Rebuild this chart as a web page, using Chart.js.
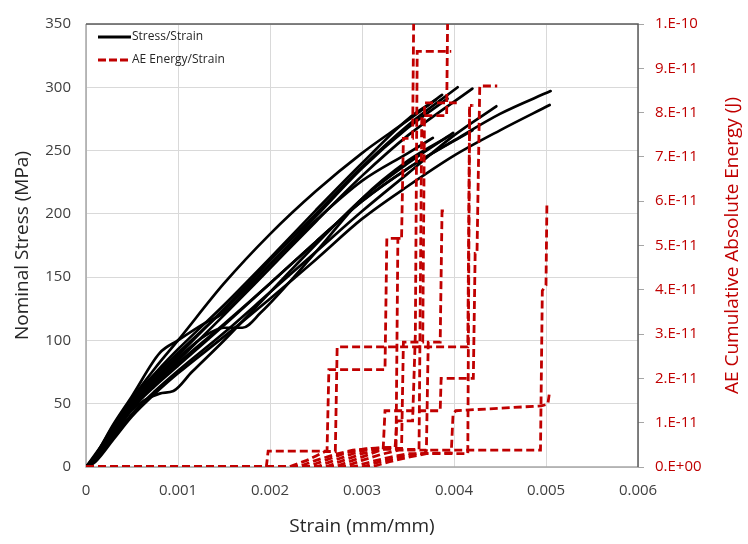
<!DOCTYPE html>
<html><head><meta charset="utf-8">
<script src="https://cdn.jsdelivr.net/npm/chart.js@4.4.1/dist/chart.umd.min.js"></script>
<style>html,body{margin:0;padding:0;background:#fff;}#wrap{width:748px;height:544px;position:relative;}</style>
</head><body><div id="wrap"><canvas id="c" width="748" height="544"></canvas></div>
<script>
// ---- tick labels ----
const xTickLabels = ['0','0.001','0.002','0.003','0.004','0.005','0.006'];
const yTickLabels = ['0','50','100','150','200','250','300','350'];
const y2TickLabels = ['0.E+00','1.E-11','2.E-11','3.E-11','4.E-11','5.E-11','6.E-11','7.E-11','8.E-11','9.E-11','1.E-10'];

// ---- Stress/Strain curves (strain mm/mm, stress MPa) ----
const ssA_strain = [0,0.0001,0.0003,0.0005,0.00075,0.001,0.0015,0.002,0.0025,0.003,0.0035,0.00387];
const ssA_stress = [0,8,32,54,78,100,145,184,218,248,274,294];
const ssB_strain = [0,0.0001,0.0003,0.0005,0.00075,0.001,0.0015,0.002,0.0025,0.003,0.0035,0.00404];
const ssB_stress = [0,10,30,50,70,88,125,163,200,237,270,300];
const ssC_strain = [0,0.0001,0.0003,0.0005,0.00075,0.001,0.0015,0.002,0.0025,0.003,0.0035,0.0042];
const ssC_stress = [0,6,26,46,66,84,120,157,194,230,262,299];
const ssK_strain = [0,0.0001,0.0003,0.0005,0.0008,0.001,0.0013,0.0015,0.002,0.0025,0.003,0.0035,0.00393];
const ssK_stress = [0,9,34,56,90,100,114,122,160,198,236,268,291];
const ssD_strain = [0,0.0001,0.0003,0.0005,0.00075,0.001,0.0015,0.002,0.0025,0.003,0.0035,0.004,0.00446];
const ssD_stress = [0,5,24,42,60,76,106,138,170,202,232,262,285];
const ssE_strain = [0,0.0001,0.0003,0.0005,0.00075,0.001,0.0015,0.002,0.0025,0.003,0.0035,0.004,0.0045,0.00505];
const ssE_stress = [0,7,28,48,66,82,113,145,178,210,236,258,279,297];
const ssF_strain = [0,0.0001,0.0003,0.0005,0.00075,0.001,0.0015,0.002,0.0025,0.003,0.0035,0.004,0.0045,0.00504];
const ssF_stress = [0,4,22,40,58,74,103,133,164,196,222,246,266,286];
const ssG_strain = [0,0.0001,0.0003,0.0005,0.00075,0.001,0.0015,0.002,0.0025,0.003,0.0035,0.0042];
const ssG_stress = [0,6,27,46,64,80,112,145,178,210,236,266];
const ssH_strain = [0,0.0001,0.0003,0.0005,0.00075,0.001,0.0015,0.002,0.0025,0.003,0.0035,0.00377];
const ssH_stress = [0,8,31,52,72,90,124,160,195,226,248,260];
const ssI_strain = [0,0.0001,0.0003,0.0005,0.0008,0.00095,0.00115,0.0015,0.002,0.0025,0.003,0.0035,0.00399];
const ssI_stress = [0,5,25,45,58,60,75,100,138,176,212,240,264];
const ssJ_strain = [0,0.0001,0.0003,0.0005,0.00075,0.001,0.0013,0.0015,0.0017,0.0019,0.0025,0.003,0.0035,0.00396];
const ssJ_stress = [0,7,29,49,68,86,104,110,110,122,170,212,242,262];
const ssL_strain = [0,0.0001,0.0003,0.0005,0.00075,0.001,0.0015,0.002,0.0025,0.003,0.0035,0.0038];
const ssL_stress = [0,9,33,54,74,93,128,165,203,240,275,290];

// ---- AE cumulative absolute energy curves (strain mm/mm, energy J) ----
const ae1_strain = [0,0.00196,0.00198,0.00262,0.00264,0.00325,0.00327,0.00343,0.00345,0.00355,0.00357];
const ae1_energy = [0,0,0.36e-11,0.36e-11,2.2e-11,2.2e-11,5.16e-11,5.16e-11,7.42e-11,7.42e-11,12e-11];
const ae2_strain = [0,0.0022,0.0024,0.0025,0.0026,0.00271,0.00273,0.00415,0.00417,0.00421];
const ae2_energy = [0,0,0.15e-11,0.25e-11,0.35e-11,0.35e-11,2.71e-11,2.71e-11,8.16e-11,8.16e-11];
const ae3_strain = [0,0.0024,0.0026,0.0028,0.003,0.00336,0.00338,0.00355,0.00358,0.0036,0.00397];
const ae3_energy = [0,0,0.15e-11,0.3e-11,0.4e-11,0.45e-11,1.04e-11,1.04e-11,3.0e-11,9.38e-11,9.38e-11];
const ae4_strain = [0,0.0025,0.0027,0.0029,0.0031,0.00343,0.00345,0.00366,0.00368,0.00403];
const ae4_energy = [0,0,0.15e-11,0.3e-11,0.42e-11,0.42e-11,2.82e-11,2.82e-11,8.22e-11,8.22e-11];
const ae5_strain = [0,0.0026,0.0028,0.003,0.0032,0.00362,0.00365,0.00392,0.00394];
const ae5_energy = [0,0,0.15e-11,0.3e-11,0.4e-11,0.4e-11,7.93e-11,7.93e-11,12e-11];
const ae6_strain = [0,0.0027,0.0029,0.0031,0.00323,0.00325,0.00385,0.00386,0.00421,0.00423,0.00425,0.00428,0.00447];
const ae6_energy = [0,0,0.15e-11,0.3e-11,0.4e-11,1.27e-11,1.27e-11,2.0e-11,2.0e-11,4.82e-11,4.82e-11,8.6e-11,8.6e-11];
const ae7_strain = [0,0.0028,0.003,0.0032,0.0034,0.0037,0.00372,0.00385,0.00387,0.00393];
const ae7_energy = [0,0,0.15e-11,0.28e-11,0.38e-11,0.38e-11,2.82e-11,2.82e-11,5.78e-11,5.78e-11];
const ae8_strain = [0,0.0029,0.0031,0.0033,0.0035,0.00368,0.0037,0.00494,0.00496,0.005,0.00501];
const ae8_energy = [0,0,0.12e-11,0.22e-11,0.3e-11,0.3e-11,0.38e-11,0.38e-11,3.98e-11,4.1e-11,5.98e-11];
const ae9_strain = [0,0.003,0.0032,0.0034,0.0036,0.00397,0.00399,0.00402,0.00495,0.00502,0.00504];
const ae9_energy = [0,0,0.12e-11,0.22e-11,0.3e-11,0.32e-11,1.2e-11,1.27e-11,1.38e-11,1.42e-11,1.71e-11];
const ae10_strain = [0,0.0031,0.0033,0.0035,0.0037,0.00415,0.00417,0.0042];
const ae10_energy = [0,0,0.12e-11,0.22e-11,0.3e-11,0.3e-11,8.16e-11,8.16e-11];
const ae11_strain = [0,0.0023,0.0025,0.0027,0.0029,0.0031,0.00337,0.00339,0.00343];
const ae11_energy = [0,0,0.15e-11,0.28e-11,0.38e-11,0.42e-11,0.45e-11,5.16e-11,5.16e-11];

const RED = '#C00000';
function pts(xs, ys){ return xs.map((x,i)=>({x:x, y:ys[i]})); }

const ssSeries = [
  [ssA_strain,ssA_stress],[ssB_strain,ssB_stress],[ssC_strain,ssC_stress],[ssK_strain,ssK_stress],
  [ssD_strain,ssD_stress],[ssE_strain,ssE_stress],[ssF_strain,ssF_stress],[ssG_strain,ssG_stress],
  [ssH_strain,ssH_stress],[ssI_strain,ssI_stress],[ssJ_strain,ssJ_stress],[ssL_strain,ssL_stress]
];
const aeSeries = [
  [ae1_strain,ae1_energy],[ae2_strain,ae2_energy],[ae3_strain,ae3_energy],[ae4_strain,ae4_energy],
  [ae5_strain,ae5_energy],[ae6_strain,ae6_energy],[ae7_strain,ae7_energy],[ae8_strain,ae8_energy],
  [ae9_strain,ae9_energy],[ae10_strain,ae10_energy],[ae11_strain,ae11_energy]
];

const datasets = [];
aeSeries.forEach((s,i)=>datasets.push({
  label:'AE Energy/Strain '+(i+1), data:pts(s[0],s[1]), yAxisID:'y2', showLine:true,
  borderColor:RED, borderWidth:2.8, borderDash:[8,4], pointRadius:0, tension:0, order:0,
  borderCapStyle:'butt', borderJoinStyle:'miter'
}));
ssSeries.forEach((s,i)=>datasets.push({
  label:'Stress/Strain '+(i+1), data:pts(s[0],s[1]), yAxisID:'y', showLine:true,
  borderColor:'#000', borderWidth:2.7, pointRadius:0, cubicInterpolationMode:'monotone', order:1,
  borderCapStyle:'round', borderJoinStyle:'round'
}));

const FONT = "'Open Sans', 'DejaVu Sans', sans-serif";

const framePlugin = {
  id:'frame',
  beforeDatasetsDraw(chart){
    const {ctx, chartArea:a} = chart;
    ctx.save();
    ctx.lineWidth = 1.5;
    ctx.strokeStyle = '#a6a6a6';
    ctx.beginPath(); ctx.moveTo(a.left, a.top); ctx.lineTo(a.left, a.bottom); ctx.lineTo(a.right, a.bottom); ctx.stroke();
    ctx.strokeStyle = '#595959';
    ctx.beginPath(); ctx.moveTo(a.left, a.top); ctx.lineTo(a.right, a.top); ctx.lineTo(a.right, a.bottom); ctx.stroke();
    ctx.restore();
  },
  afterDraw(chart){
    const {ctx, chartArea:a} = chart;
    ctx.save();
    ctx.translate(733, (a.top + a.bottom)/2);
    ctx.rotate(-Math.PI/2);
    ctx.fillStyle = RED;
    ctx.font = "19px " + FONT;
    ctx.textAlign = 'center'; ctx.textBaseline = 'middle';
    ctx.fillText('AE Cumulative Absolute Energy (J)', 0, 0);
    ctx.restore();
    ctx.save();
    ctx.font = "12px " + FONT;
    ctx.textBaseline = 'middle'; ctx.textAlign = 'left';
    ctx.lineWidth = 3;
    ctx.strokeStyle = '#000';
    ctx.beginPath(); ctx.moveTo(98, 37); ctx.lineTo(131, 37); ctx.stroke();
    ctx.fillStyle = '#262626';
    ctx.fillText('Stress/Strain', 132, 37);
    ctx.strokeStyle = RED; ctx.setLineDash([8,3]);
    ctx.beginPath(); ctx.moveTo(98, 60); ctx.lineTo(131, 60); ctx.stroke();
    ctx.setLineDash([]);
    ctx.fillText('AE Energy/Strain', 132, 60);
    ctx.restore();
  }
};

new Chart(document.getElementById('c'), {
  type:'scatter',
  data:{datasets},
  options:{
    responsive:false, animation:false,
    layout:{padding:{top:17, left:0, right:0, bottom:0}},
    plugins:{legend:{display:false}, tooltip:{enabled:false}},
    scales:{
      x:{
        type:'linear', min:0, max:0.006,
        afterFit(s){ s.height = 77; },
        ticks:{stepSize:0.001, autoSkip:false, maxRotation:0, padding:15, color:'#404040',
          font:{family:FONT, size:15},
          callback:(v)=>xTickLabels[Math.round(v/0.001)]},
        grid:{color:'#d9d9d9', lineWidth:1, drawTicks:false},
        border:{display:false},
        title:{display:true, text:'Strain (mm/mm)', color:'#262626', font:{family:FONT, size:19}, padding:{top:0,bottom:6}}
      },
      y:{
        type:'linear', position:'left', min:0, max:350,
        afterFit(s){ s.width = 86; },
        ticks:{stepSize:50, autoSkip:false, padding:15, color:'#404040',
          font:{family:FONT, size:15},
          callback:(v)=>yTickLabels[Math.round(v/50)]},
        grid:{color:'#d9d9d9', lineWidth:1, drawTicks:false},
        border:{display:false},
        title:{display:true, text:'Nominal Stress (MPa)', color:'#262626', font:{family:FONT, size:19}, padding:{top:11,bottom:0}}
      },
      y2:{
        type:'linear', position:'right', min:0, max:1e-10,
        afterFit(s){ s.width = 110; },
        ticks:{stepSize:1e-11, autoSkip:false, padding:11, color:RED,
          font:{family:FONT, size:15},
          callback:(v)=>y2TickLabels[Math.round(v/1e-11)]},
        grid:{drawOnChartArea:false, drawTicks:true, tickLength:6, tickColor:'#a6a6a6'},
        border:{display:false}
      }
    }
  },
  plugins:[framePlugin]
});
</script>
</body></html>
